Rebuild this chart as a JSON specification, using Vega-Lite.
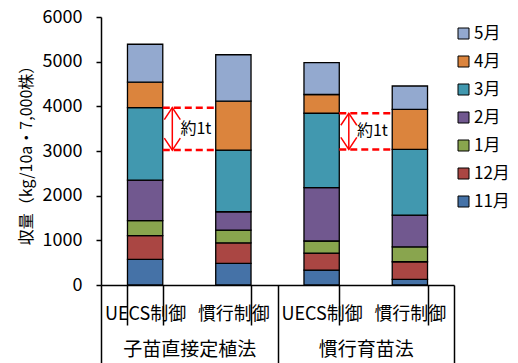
{
  "$schema": "https://vega.github.io/schema/vega-lite/v6.json",
  "width": 353,
  "height": 268,
  "autosize": {"type": "none"},
  "padding": {"left": 101, "top": 17, "right": 64, "bottom": 78},
  "background": "white",
  "config": {
    "view": {"stroke": null},
    "font": "Noto Sans CJK JP",
    "axis": {"labelFont": "Noto Sans CJK JP", "titleFont": "Noto Sans CJK JP", "labelColor": "#000", "titleColor": "#000", "domainColor": "#000", "tickColor": "#000"},
    "legend": {"labelFont": "Noto Sans CJK JP"}
  },
  "datasets": {
    "yield": [
      {"bar": "1 UECS制御", "group": "子苗直接定植法", "month": "11月", "o": 1, "value": 575},
      {"bar": "1 UECS制御", "group": "子苗直接定植法", "month": "12月", "o": 2, "value": 530},
      {"bar": "1 UECS制御", "group": "子苗直接定植法", "month": "1月", "o": 3, "value": 335},
      {"bar": "1 UECS制御", "group": "子苗直接定植法", "month": "2月", "o": 4, "value": 910},
      {"bar": "1 UECS制御", "group": "子苗直接定植法", "month": "3月", "o": 5, "value": 1620},
      {"bar": "1 UECS制御", "group": "子苗直接定植法", "month": "4月", "o": 6, "value": 570},
      {"bar": "1 UECS制御", "group": "子苗直接定植法", "month": "5月", "o": 7, "value": 850},
      {"bar": "2 慣行制御", "group": "子苗直接定植法", "month": "11月", "o": 1, "value": 485},
      {"bar": "2 慣行制御", "group": "子苗直接定植法", "month": "12月", "o": 2, "value": 460},
      {"bar": "2 慣行制御", "group": "子苗直接定植法", "month": "1月", "o": 3, "value": 285},
      {"bar": "2 慣行制御", "group": "子苗直接定植法", "month": "2月", "o": 4, "value": 410},
      {"bar": "2 慣行制御", "group": "子苗直接定植法", "month": "3月", "o": 5, "value": 1380},
      {"bar": "2 慣行制御", "group": "子苗直接定植法", "month": "4月", "o": 6, "value": 1095},
      {"bar": "2 慣行制御", "group": "子苗直接定植法", "month": "5月", "o": 7, "value": 1040},
      {"bar": "3 UECS制御", "group": "慣行育苗法", "month": "11月", "o": 1, "value": 335},
      {"bar": "3 UECS制御", "group": "慣行育苗法", "month": "12月", "o": 2, "value": 380},
      {"bar": "3 UECS制御", "group": "慣行育苗法", "month": "1月", "o": 3, "value": 270},
      {"bar": "3 UECS制御", "group": "慣行育苗法", "month": "2月", "o": 4, "value": 1195},
      {"bar": "3 UECS制御", "group": "慣行育苗法", "month": "3月", "o": 5, "value": 1665},
      {"bar": "3 UECS制御", "group": "慣行育苗法", "month": "4月", "o": 6, "value": 420},
      {"bar": "3 UECS制御", "group": "慣行育苗法", "month": "5月", "o": 7, "value": 715},
      {"bar": "4 慣行制御", "group": "慣行育苗法", "month": "11月", "o": 1, "value": 125},
      {"bar": "4 慣行制御", "group": "慣行育苗法", "month": "12月", "o": 2, "value": 395},
      {"bar": "4 慣行制御", "group": "慣行育苗法", "month": "1月", "o": 3, "value": 335},
      {"bar": "4 慣行制御", "group": "慣行育苗法", "month": "2月", "o": 4, "value": 710},
      {"bar": "4 慣行制御", "group": "慣行育苗法", "month": "3月", "o": 5, "value": 1470},
      {"bar": "4 慣行制御", "group": "慣行育苗法", "month": "4月", "o": 6, "value": 895},
      {"bar": "4 慣行制御", "group": "慣行育苗法", "month": "5月", "o": 7, "value": 525}
    ],
    "diff": [
      {"from": "1 UECS制御", "to": "2 慣行制御", "y": 3970},
      {"from": "1 UECS制御", "to": "2 慣行制御", "y": 3020},
      {"from": "3 UECS制御", "to": "4 慣行制御", "y": 3845},
      {"from": "3 UECS制御", "to": "4 慣行制御", "y": 3035}
    ]
  },
  "layer": [
    {
      "data": {"name": "yield"},
      "mark": {"type": "bar", "stroke": "#000", "strokeWidth": 1.3},
      "encoding": {
        "x": {
          "field": "bar", "type": "nominal", "sort": null,
          "scale": {"type": "band", "domain": ["1 UECS制御", "2 慣行制御", "3 UECS制御", "4 慣行制御"], "paddingInner": 0.6, "paddingOuter": 0.3},
          "axis": {
            "orient": "bottom", "title": null, "labelAngle": 0, "labelExpr": "substring(datum.label, 2)",
            "tickBand": "extent", "tickSize": 40, "tickWidth": 1.5, "domainWidth": 1.5,
            "labelPadding": -20, "labelFontSize": 18
          }
        },
        "y": {
          "aggregate": "sum", "field": "value", "type": "quantitative", "stack": "zero",
          "scale": {"domain": [0, 6000], "nice": false},
          "axis": {
            "values": [0, 1000, 2000, 3000, 4000, 5000, 6000], "format": "d", "grid": false,
            "tickSize": 5, "labelPadding": 14, "labelFontSize": 18, "domainWidth": 1.5, "tickWidth": 1.5,
            "title": "収量（kg/10a・7,000株）", "titleFontSize": 16, "titleFontWeight": "normal", "titlePadding": 8
          }
        },
        "color": {
          "field": "month", "type": "nominal",
          "scale": {
            "domain": ["5月", "4月", "3月", "2月", "1月", "12月", "11月"],
            "range": ["#93A9CF", "#DB843D", "#4198AF", "#71588F", "#89A54E", "#AA4643", "#4572A7"]
          },
          "legend": {
            "title": null, "orient": "none", "legendX": 354, "legendY": 8,
            "symbolType": "square", "symbolSize": 121, "symbolStrokeColor": "#000", "symbolStrokeWidth": 1,
            "labelFontSize": 17, "rowPadding": 10, "padding": 0, "labelOffset": 2
          }
        },
        "order": {"field": "o", "type": "quantitative", "sort": "ascending"}
      }
    },
    {
      "data": {"name": "diff"},
      "mark": {"type": "rule", "color": "#FF0000", "strokeWidth": 2.5, "strokeDash": [7, 4]},
      "encoding": {
        "x": {"field": "from", "type": "nominal", "bandPosition": 1, "axis": null,
          "scale": {"type": "band", "domain": ["1 UECS制御", "2 慣行制御", "3 UECS制御", "4 慣行制御"], "paddingInner": 0.6, "paddingOuter": 0.3}},
        "x2": {"field": "to", "bandPosition": 0},
        "y": {"field": "y", "type": "quantitative"}
      }
    },
    {
      "data": {"name": "diff"},
      "mark": {"type": "rule", "color": "#FF0000", "strokeWidth": 1.5},
      "encoding": {
        "x": {"field": "from", "type": "nominal", "bandPosition": 1.27, "axis": null,
          "scale": {"type": "band", "domain": ["1 UECS制御", "2 慣行制御", "3 UECS制御", "4 慣行制御"], "paddingInner": 0.6, "paddingOuter": 0.3}},
        "y": {"aggregate": "min", "field": "y", "type": "quantitative"},
        "y2": {"aggregate": "max", "field": "y"}
      }
    },
    {
      "data": {"name": "diff"},
      "mark": {"type": "point", "shape": "M-1,1.5L0,0L1,1.5", "filled": false, "stroke": "#FF0000", "strokeWidth": 1.5, "size": 256, "opacity": 1},
      "encoding": {
        "x": {"field": "from", "type": "nominal", "bandPosition": 1.27, "axis": null,
          "scale": {"type": "band", "domain": ["1 UECS制御", "2 慣行制御", "3 UECS制御", "4 慣行制御"], "paddingInner": 0.6, "paddingOuter": 0.3}},
        "y": {"aggregate": "max", "field": "y", "type": "quantitative"}
      }
    },
    {
      "data": {"name": "diff"},
      "mark": {"type": "point", "shape": "M-1,-1.5L0,0L1,-1.5", "filled": false, "stroke": "#FF0000", "strokeWidth": 1.5, "size": 256, "opacity": 1},
      "encoding": {
        "x": {"field": "from", "type": "nominal", "bandPosition": 1.27, "axis": null,
          "scale": {"type": "band", "domain": ["1 UECS制御", "2 慣行制御", "3 UECS制御", "4 慣行制御"], "paddingInner": 0.6, "paddingOuter": 0.3}},
        "y": {"aggregate": "min", "field": "y", "type": "quantitative"}
      }
    },
    {
      "data": {"name": "diff"},
      "mark": {"type": "text", "text": "約1t", "align": "left", "baseline": "middle", "fontSize": 16, "color": "#000"},
      "encoding": {
        "x": {"field": "from", "type": "nominal", "bandPosition": 1.5, "axis": null,
          "scale": {"type": "band", "domain": ["1 UECS制御", "2 慣行制御", "3 UECS制御", "4 慣行制御"], "paddingInner": 0.6, "paddingOuter": 0.3}},
        "y": {"aggregate": "mean", "field": "y", "type": "quantitative"}
      }
    },
    {
      "data": {"name": "yield"},
      "mark": {"type": "point", "opacity": 0},
      "encoding": {
        "x": {
          "field": "group", "type": "nominal", "sort": null,
          "scale": {"type": "band", "paddingInner": 0, "paddingOuter": 0},
          "axis": {
            "orient": "bottom", "title": null, "labelAngle": 0, "tickBand": "extent", "tickSize": 78,
            "tickWidth": 1.5, "domain": false, "labelPadding": -23, "labelFontSize": 19
          }
        }
      }
    }
  ],
  "resolve": {"scale": {"x": "independent"}, "axis": {"x": "independent"}}
}
